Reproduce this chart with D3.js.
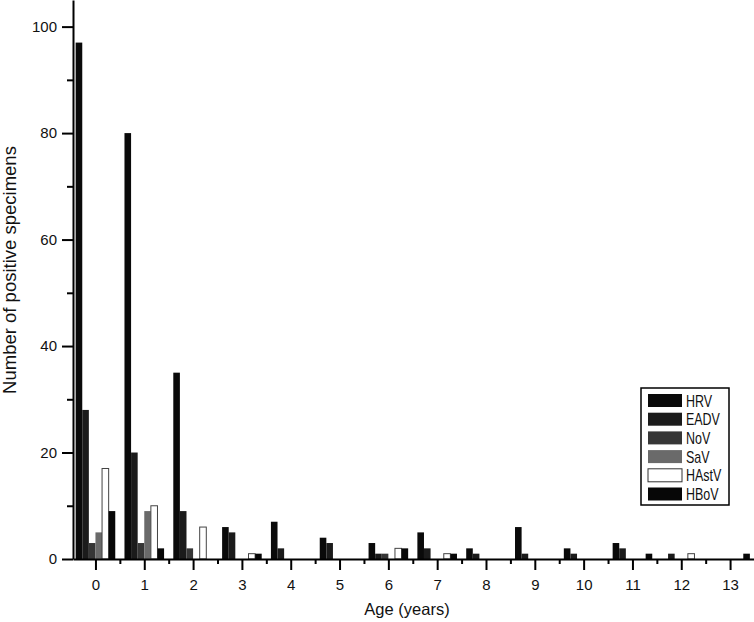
<!DOCTYPE html>
<html>
<head>
<meta charset="utf-8">
<script src="https://cdn.jsdelivr.net/npm/d3@7"></script>
<style>
  body { margin: 0; background: #fff; }
  text { font-family: "Liberation Sans", Arial, sans-serif; fill: #111; }
</style>
</head>
<body>
<svg id="chart"></svg>
<script>
// ages (years) on the x axis
const ages = [0, 1, 2, 3, 4, 5, 6, 7, 8, 9, 10, 11, 12, 13];
const series = ["HRV", "EADV", "NoV", "SaV", "HAstV", "HBoV"];

// positive specimens per age
const hrv   = [97, 80, 35, 6, 7, 4, 3, 5, 2, 6, 2, 3, 0, 0];
const eadv  = [28, 20, 9, 5, 2, 3, 1, 2, 1, 1, 1, 2, 1, 0];
const nov   = [3, 3, 2, 0, 0, 0, 1, 0, 0, 0, 0, 0, 0, 0];
const sav   = [5, 9, 0, 0, 0, 0, 0, 0, 0, 0, 0, 0, 0, 0];
const hastv = [17, 10, 6, 1, 0, 0, 2, 1, 0, 0, 0, 0, 1, 0];
const hbov  = [9, 2, 0, 1, 0, 0, 2, 1, 0, 0, 0, 1, 0, 1];

const yTicks = [0, 20, 40, 60, 80, 100];
const yMinor = [10, 30, 50, 70, 90];
const xMinor = [0.5, 1.5, 2.5, 3.5, 4.5, 5.5, 6.5, 7.5, 8.5, 9.5, 10.5, 11.5, 12.5];

const values = { HRV: hrv, EADV: eadv, NoV: nov, SaV: sav, HAstV: hastv, HBoV: hbov };
const fills = { HRV: "#0a0a0a", EADV: "#1b1b1b", NoV: "#363636", SaV: "#6a6a6a", HAstV: "#ffffff", HBoV: "#070707" };

const width = 754, height = 622;
const svg = d3.select("#chart").attr("width", width).attr("height", height);

const left = 73, bottom = 559;
const x = d3.scaleLinear().domain([-0.46, 13.49]).range([left, width]);
const y = d3.scaleLinear().domain([0, 105]).range([bottom, 0]);

// bars inside each age group
const groupW = 39.6;
const x1 = d3.scaleBand().domain(series).range([-groupW / 2, groupW / 2]);

const data = [];
ages.forEach((a, i) => {
  series.forEach(s => data.push({ age: a, key: s, value: values[s][i] }));
});

svg.append("g")
  .selectAll("rect")
  .data(data.filter(d => d.value > 0))
  .join("rect")
  .attr("x", d => x(d.age) + x1(d.key))
  .attr("y", d => y(d.value))
  .attr("width", x1.bandwidth())
  .attr("height", d => bottom - y(d.value))
  .attr("fill", d => fills[d.key])
  .attr("stroke", d => d.key == "HAstV" ? "#444" : "none")
  .attr("stroke-width", 1);

//axes
function styleAxis(g) {
  g.selectAll("path, line").attr("stroke", "#000").attr("stroke-width", 2);
  g.selectAll("text").style("font-size", "15px").attr("fill", "#111");
}

svg.append("g")
  .attr("transform", `translate(0,${bottom})`)
  .call(d3.axisBottom(x).tickValues(xMinor).tickSize(5).tickSizeOuter(0).tickFormat(""))
  .call(g => g.select(".domain").remove())
  .call(styleAxis);

svg.append("g")
  .attr("transform", `translate(0,${bottom})`)
  .call(d3.axisBottom(x).tickValues(ages).tickSize(11).tickSizeOuter(0).tickPadding(9).tickFormat(d3.format("d")))
  .call(styleAxis);

svg.append("g")
  .attr("transform", `translate(${left},0)`)
  .call(d3.axisLeft(y).tickValues(yMinor).tickSize(6).tickSizeOuter(0).tickFormat(""))
  .call(g => g.select(".domain").remove())
  .call(styleAxis);

svg.append("g")
  .attr("transform", `translate(${left},0)`)
  .call(d3.axisLeft(y).tickValues(yTicks).tickSize(11).tickSizeOuter(0).tickPadding(5))
  .call(styleAxis);

svg.append("text")
  .attr("transform", "translate(16,270) rotate(-90)")
  .attr("text-anchor", "middle")
  .style("font-size", "18.5px")
  .text("Number of positive specimens");

svg.append("text")
  .attr("x", 407)
  .attr("y", 615)
  .attr("text-anchor", "middle")
  .style("font-size", "16.5px")
  .text("Age (years)");

//legend
const legend = svg.append("g").attr("transform", "translate(641,388)");
legend.append("rect")
  .attr("width", 88).attr("height", 117)
  .attr("fill", "#fff").attr("stroke", "#000").attr("stroke-width", 1.5);

const rows = legend.selectAll("g.row")
  .data(series)
  .join("g")
  .attr("class", "row")
  .attr("transform", (d, i) => `translate(7,${6 + i * 18.7})`);
rows.append("rect")
  .attr("width", 34).attr("height", 13)
  .attr("fill", d => fills[d])
  .attr("stroke", d => d == "HAstV" ? "#333" : "none");
// condensed look for the legend labels
rows.append("text")
  .attr("transform", "translate(38,12.5) scale(0.78,1)")
  .style("font-size", "16px")
  .text(d => d);
</script>
</body>
</html>
